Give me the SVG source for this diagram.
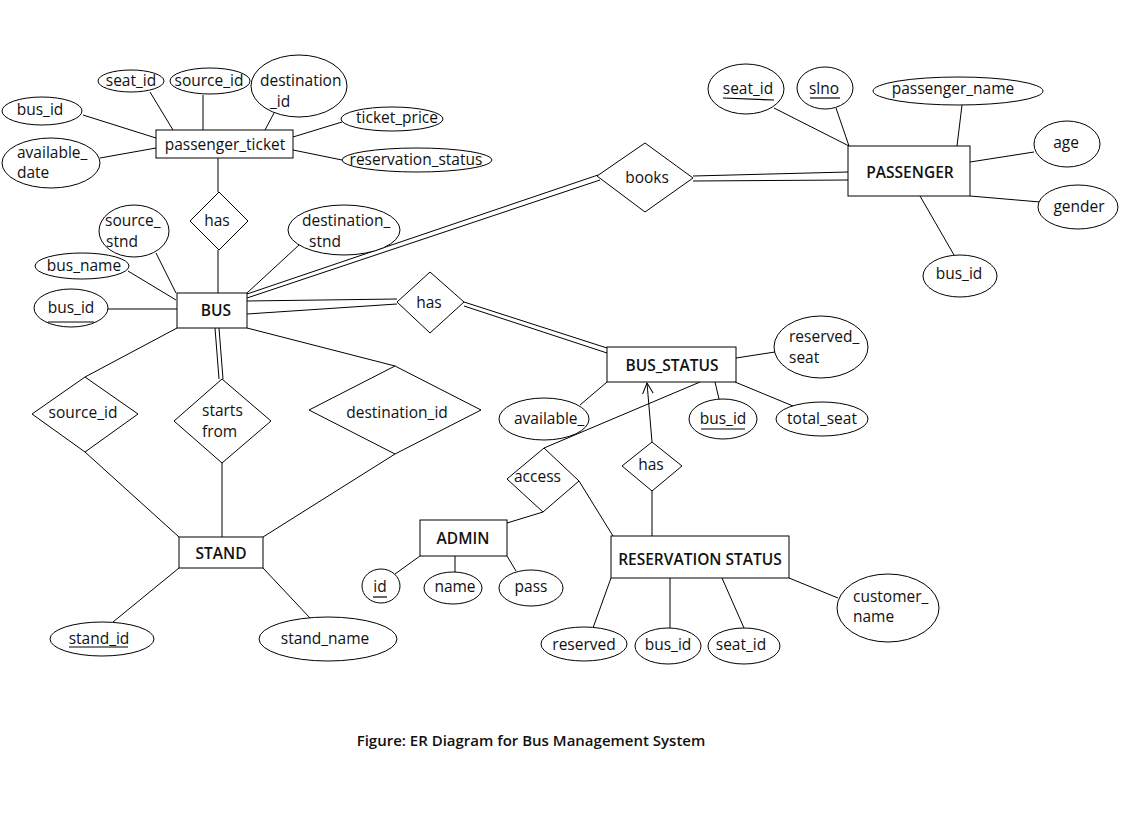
<svg xmlns="http://www.w3.org/2000/svg" width="1131" height="813" viewBox="0 0 1131 813">
<defs>
<style>
.e{fill:#fff;stroke:#000;stroke-width:1}
.c line{stroke:#000;stroke-width:1}
text{font-family:"Open Sans","Noto Sans","DejaVu Sans",sans-serif;font-size:15.5px;fill:#111}
.m{text-anchor:middle}
.b{font-weight:600}
.cap{font-size:15px}
.u{stroke:#000;stroke-width:1.2}
</style>
<marker id="arr" viewBox="0 0 12 12" refX="11" refY="6" markerWidth="12" markerHeight="12" markerUnits="userSpaceOnUse" orient="auto">
<path d="M0,0.5 L11,6 L0,11.5" fill="none" stroke="#000" stroke-width="1"/>
</marker>
</defs>
<rect width="1131" height="813" fill="#fff"/>
<g id="connectors" class="c">
<line x1="150" y1="92" x2="173" y2="130"/>
<line x1="203" y1="95" x2="203" y2="130"/>
<line x1="274" y1="113" x2="265" y2="130"/>
<line x1="83" y1="115" x2="156" y2="138"/>
<line x1="100" y1="158" x2="156" y2="148"/>
<line x1="293" y1="137" x2="342" y2="122"/>
<line x1="293" y1="150" x2="342" y2="160"/>
<line x1="218" y1="158" x2="218" y2="192"/>
<line x1="218" y1="250" x2="218" y2="293"/>
<line x1="156" y1="253" x2="176" y2="293"/>
<line x1="128" y1="271" x2="176" y2="300"/>
<line x1="108" y1="309" x2="177" y2="309"/>
<line x1="299" y1="245" x2="247" y2="293"/>
<line x1="247" y1="294" x2="598" y2="175"/>
<line x1="247" y1="298" x2="600" y2="180"/>
<line x1="247" y1="301" x2="397" y2="299"/>
<line x1="247" y1="314" x2="397" y2="304"/>
<line x1="177" y1="328" x2="85" y2="377"/>
<line x1="215" y1="328" x2="219" y2="379"/>
<line x1="219" y1="328" x2="223" y2="379"/>
<line x1="247" y1="328" x2="395" y2="366"/>
<line x1="85" y1="452" x2="179" y2="537"/>
<line x1="222" y1="463" x2="222" y2="537"/>
<line x1="395" y1="454" x2="263" y2="537"/>
<line x1="179" y1="568" x2="113" y2="622"/>
<line x1="263" y1="568" x2="310" y2="618"/>
<line x1="693" y1="176" x2="848" y2="172"/>
<line x1="693" y1="181" x2="848" y2="180"/>
<line x1="774" y1="108" x2="849" y2="146"/>
<line x1="836" y1="108" x2="849" y2="146"/>
<line x1="962" y1="105" x2="957" y2="146"/>
<line x1="970" y1="162" x2="1034" y2="152"/>
<line x1="970" y1="196" x2="1040" y2="202"/>
<line x1="920" y1="196" x2="954" y2="255"/>
<line x1="464" y1="302" x2="607" y2="348"/>
<line x1="464" y1="306" x2="607" y2="353"/>
<line x1="736" y1="358" x2="775" y2="352"/>
<line x1="607" y1="382" x2="580" y2="405"/>
<line x1="715" y1="382" x2="719" y2="399"/>
<line x1="735" y1="382" x2="793" y2="406"/>
<line x1="700" y1="382" x2="544" y2="448"/>
<line x1="652" y1="442" x2="647" y2="383" marker-end="url(#arr)"/>
<line x1="543" y1="512" x2="507" y2="523"/>
<line x1="579" y1="481" x2="613" y2="536"/>
<line x1="652" y1="491" x2="652" y2="536"/>
<line x1="611" y1="578" x2="593" y2="628"/>
<line x1="670" y1="578" x2="670" y2="628"/>
<line x1="722" y1="578" x2="744" y2="628"/>
<line x1="789" y1="578" x2="838" y2="598"/>
<line x1="420" y1="556" x2="395" y2="574"/>
<line x1="455" y1="556" x2="455" y2="572"/>
<line x1="507" y1="556" x2="516" y2="571"/>
</g>
<g id="passenger_ticket"><rect class="e" x="156" y="130" width="137" height="28"/><text class="m" x="225" y="150">passenger_ticket</text></g>
<g id="pt_seat_id"><ellipse class="e" cx="131" cy="81" rx="33" ry="11"/><text class="m" x="131" y="86">seat_id</text></g>
<g id="pt_source_id"><ellipse class="e" cx="210" cy="81" rx="40" ry="13"/><text class="m" x="209" y="86">source_id</text></g>
<g id="pt_destination_id"><ellipse class="e" cx="299" cy="86" rx="48" ry="31"/><text x="260" y="86">destination</text><text x="270" y="107">_id</text></g>
<g id="pt_bus_id"><ellipse class="e" cx="42" cy="111" rx="40" ry="14"/><text class="m" x="40" y="115">bus_id</text></g>
<g id="pt_available_date"><ellipse class="e" cx="51" cy="163" rx="49" ry="25"/><text x="17" y="158">available_</text><text x="17" y="178">date</text></g>
<g id="pt_ticket_price"><ellipse class="e" cx="392" cy="119" rx="51" ry="12"/><text class="m" x="397" y="123">ticket_price</text></g>
<g id="pt_reservation_status"><ellipse class="e" cx="417" cy="160" rx="75" ry="12"/><text class="m" x="416" y="165">reservation_status</text></g>
<g id="has1"><polygon class="e" points="219,192 248,221 219,250 190,221"/><text class="m" x="217" y="226">has</text></g>
<g id="bus"><rect class="e" x="177" y="293" width="70" height="35"/><text class="m b" x="216" y="316">BUS</text></g>
<g id="bus_source_stnd"><ellipse class="e" cx="134" cy="231" rx="35" ry="26"/><text x="105" y="226">source_</text><text x="106" y="247">stnd</text></g>
<g id="bus_destination_stnd"><ellipse class="e" cx="344" cy="230" rx="56" ry="25"/><text x="302" y="226">destination_</text><text x="309" y="247">stnd</text></g>
<g id="bus_name"><ellipse class="e" cx="82" cy="266" rx="47" ry="13"/><text class="m" x="84" y="271">bus_name</text></g>
<g id="bus_bus_id"><ellipse class="e" cx="71" cy="308" rx="37" ry="19"/><text class="m" x="71" y="313">bus_id</text><line class="u" x1="48" y1="322" x2="94" y2="322"/></g>
<g id="has2"><polygon class="e" points="430,272 464,302 430,333 397,302"/><text class="m" x="429" y="308">has</text></g>
<g id="source_id_rel"><polygon class="e" points="85,377 138,414 85,452 32,414"/><text class="m" x="83" y="418">source_id</text></g>
<g id="starts_from"><polygon class="e" points="222,379 271,421 222,463 174,421"/><text x="202" y="416">starts</text><text x="202" y="437">from</text></g>
<g id="destination_id_rel"><polygon class="e" points="395,366 481,410 395,454 309,410"/><text class="m" x="397" y="418">destination_id</text></g>
<g id="stand"><rect class="e" x="179" y="537" width="84" height="31"/><text class="m b" x="221" y="559">STAND</text></g>
<g id="stand_id"><ellipse class="e" cx="102" cy="639" rx="52" ry="17"/><text class="m" x="99" y="644">stand_id</text><line class="u" x1="69" y1="647" x2="128" y2="647"/></g>
<g id="stand_name"><ellipse class="e" cx="328" cy="639" rx="69" ry="22"/><text class="m" x="325" y="644">stand_name</text></g>
<g id="books"><polygon class="e" points="645,143 693,178 645,212 597,176"/><text class="m" x="647" y="183">books</text></g>
<g id="passenger"><rect class="e" x="848" y="146" width="122" height="50"/><text class="m b" x="910" y="178">PASSENGER</text></g>
<g id="p_seat_id"><ellipse class="e" cx="746" cy="89" rx="38" ry="25"/><text class="m" x="748" y="94">seat_id</text><line class="u" x1="723" y1="98" x2="774" y2="100"/></g>
<g id="p_slno"><ellipse class="e" cx="825" cy="88" rx="28" ry="21"/><text class="m" x="824" y="94">slno</text><line class="u" x1="810" y1="98" x2="840" y2="98"/></g>
<g id="p_passenger_name"><ellipse class="e" cx="958" cy="91" rx="85" ry="14"/><text class="m" x="953" y="94">passenger_name</text></g>
<g id="p_age"><ellipse class="e" cx="1067" cy="144" rx="33" ry="23"/><text class="m" x="1066" y="148">age</text></g>
<g id="p_gender"><ellipse class="e" cx="1078" cy="207" rx="40" ry="22"/><text class="m" x="1079" y="212">gender</text></g>
<g id="p_bus_id"><ellipse class="e" cx="960" cy="276" rx="37" ry="21"/><text class="m" x="959" y="279">bus_id</text></g>
<g id="bus_status"><rect class="e" x="607" y="347" width="129" height="35"/><text class="m b" x="672" y="371">BUS_STATUS</text></g>
<g id="bs_reserved_seat"><ellipse class="e" cx="821" cy="347" rx="47" ry="31"/><text x="789" y="342">reserved_</text><text x="789" y="363">seat</text></g>
<g id="bs_available"><ellipse class="e" cx="544" cy="419" rx="45" ry="21"/><text x="514" y="424">available_</text></g>
<g id="bs_bus_id"><ellipse class="e" cx="723" cy="419" rx="34" ry="20"/><text class="m" x="723" y="424">bus_id</text><line class="u" x1="701" y1="429" x2="745" y2="429"/></g>
<g id="bs_total_seat"><ellipse class="e" cx="822" cy="419" rx="46" ry="17"/><text class="m" x="822" y="424">total_seat</text></g>
<g id="has3"><polygon class="e" points="652,442 682,466 652,491 622,466"/><text class="m" x="651" y="470">has</text></g>
<g id="access"><polygon class="e" points="544,448 579,481 543,512 507,479"/><text x="514" y="482">access</text></g>
<g id="admin"><rect class="e" x="420" y="520" width="87" height="36"/><text class="m b" x="463" y="544">ADMIN</text></g>
<g id="a_id"><ellipse class="e" cx="381" cy="586" rx="19" ry="17"/><text class="m" x="380" y="592">id</text><line class="u" x1="373" y1="597" x2="387" y2="597"/></g>
<g id="a_name"><ellipse class="e" cx="453" cy="588" rx="29" ry="16"/><text class="m" x="455" y="592">name</text></g>
<g id="a_pass"><ellipse class="e" cx="531" cy="588" rx="32" ry="18"/><text class="m" x="531" y="592">pass</text></g>
<g id="reservation_status"><rect class="e" x="611" y="536" width="178" height="42"/><text class="m b" x="700" y="565">RESERVATION STATUS</text></g>
<g id="rs_reserved"><ellipse class="e" cx="584" cy="644" rx="43" ry="17"/><text class="m" x="584" y="650">reserved</text></g>
<g id="rs_bus_id"><ellipse class="e" cx="668" cy="646" rx="33" ry="18"/><text class="m" x="668" y="650">bus_id</text></g>
<g id="rs_seat_id"><ellipse class="e" cx="744" cy="646" rx="36" ry="18"/><text class="m" x="741" y="650">seat_id</text></g>
<g id="rs_customer_name"><ellipse class="e" cx="888" cy="608" rx="51" ry="34"/><text x="853" y="602">customer_</text><text x="853" y="622">name</text></g>
<text class="m b cap" x="531" y="746">Figure: ER Diagram for Bus Management System</text>
</svg>
